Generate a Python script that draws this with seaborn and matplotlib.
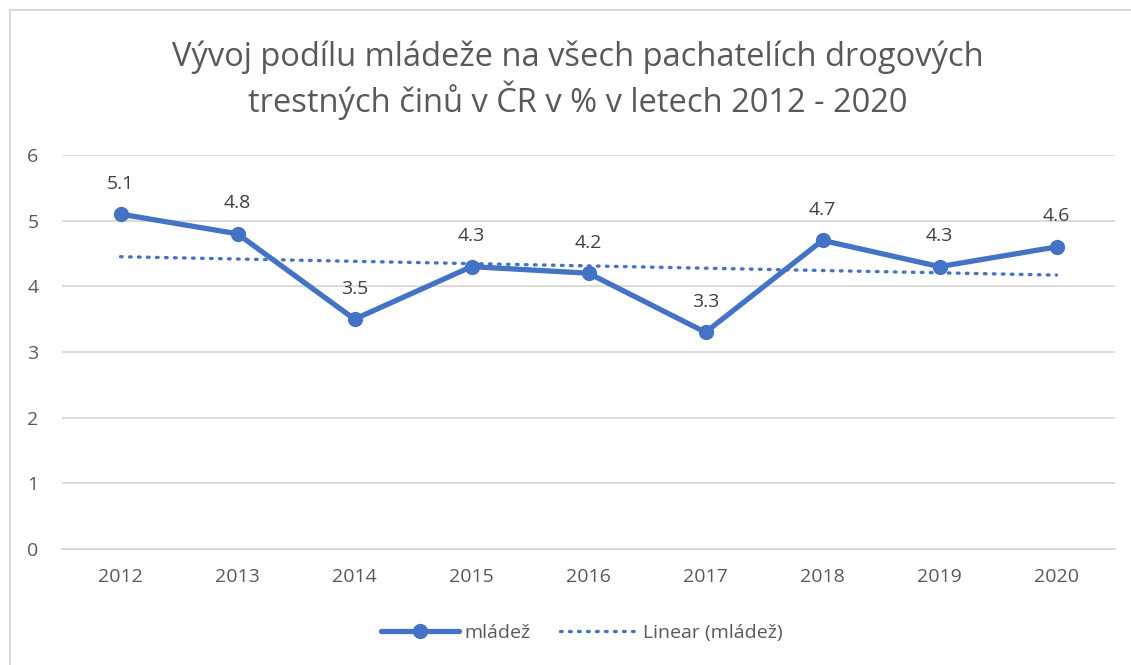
import matplotlib
matplotlib.use("Agg")
import matplotlib.pyplot as plt
from matplotlib.lines import Line2D
import seaborn as sns
import pandas as pd

years = [2012, 2013, 2014, 2015, 2016, 2017, 2018, 2019, 2020]
values = [5.1, 4.8, 3.5, 4.3, 4.2, 3.3, 4.7, 4.3, 4.6]
title = "Vývoj podílu mládeže na všech pachatelích drogových\ntrestných činů v ČR v % v letech 2012 - 2020"
series_name = "mládež"
trend_name = "Linear (mládež)"

df = pd.DataFrame({"rok": years, "podil": values})

sns.set_style("white")
plt.rcParams["font.family"] = ["Open Sans", "DejaVu Sans"]

W, H = 1131, 665
fig = plt.figure(figsize=(W / 100, H / 100), dpi=100)
ax = fig.add_axes([62 / W, 1 - 549 / H, (1115 - 62) / W, (549 - 155) / H])

blue = "#4472C4"
grey_text = "#595959"
dots = (0, (0.5, 2.2))

sns.regplot(data=df, x="rok", y="podil", ax=ax, scatter=False, ci=None,
            line_kws=dict(color=blue, lw=2.4, ls=dots, dash_capstyle="round"))
sns.lineplot(data=df, x="rok", y="podil", ax=ax, color=blue, lw=3.8,
             marker="o", markersize=11, markeredgewidth=0)

for x, y in zip(years, values):
    ax.annotate(f"{y:.1f}", (x, y), xytext=(0, 22), textcoords="offset points",
                ha="center", va="center", fontsize=14, color="#404040")

ax.set_xlim(2011.5, 2020.5)
ax.set_ylim(0, 6)
ax.set_yticks(range(0, 7))
ax.set_xticks(years)
ax.set_xticklabels([str(y) for y in years])
ax.grid(axis="y", color="#d9d9d9", lw=1.3)
ax.set_axisbelow(True)
for s in ["left", "right", "top"]:
    ax.spines[s].set_visible(False)
ax.spines["bottom"].set_color("#d9d9d9")
ax.spines["bottom"].set_linewidth(1.3)
ax.tick_params(axis="both", length=0, labelsize=14, labelcolor=grey_text)
ax.tick_params(axis="x", pad=14)
ax.tick_params(axis="y", pad=17)
ax.set_xlabel("")
ax.set_ylabel("")

fig.text(578 / W, 1 - 80 / H, title, ha="center", va="center", fontsize=23.5,
         color=grey_text, linespacing=1.2)

handles = [Line2D([], [], color=blue, lw=3.8, marker="o", markersize=11, markeredgewidth=0),
           Line2D([], [], color=blue, lw=2.4, ls=dots, dash_capstyle="round")]
fig.legend(handles, [series_name, trend_name], loc="center", bbox_to_anchor=(582 / W, 1 - 633 / H),
           ncol=2, frameon=False, fontsize=14, labelcolor=grey_text, handlelength=4.0,
           columnspacing=1.5, handletextpad=0.3)

fig.add_artist(Line2D([10 / W, 1], [1 - 10 / H, 1 - 10 / H], color="#d9d9d9", lw=1.5, transform=fig.transFigure))
fig.add_artist(Line2D([10 / W, 10 / W], [0, 1 - 10 / H], color="#d9d9d9", lw=1.5, transform=fig.transFigure))

fig.savefig("out.png", dpi=100, facecolor="white")
